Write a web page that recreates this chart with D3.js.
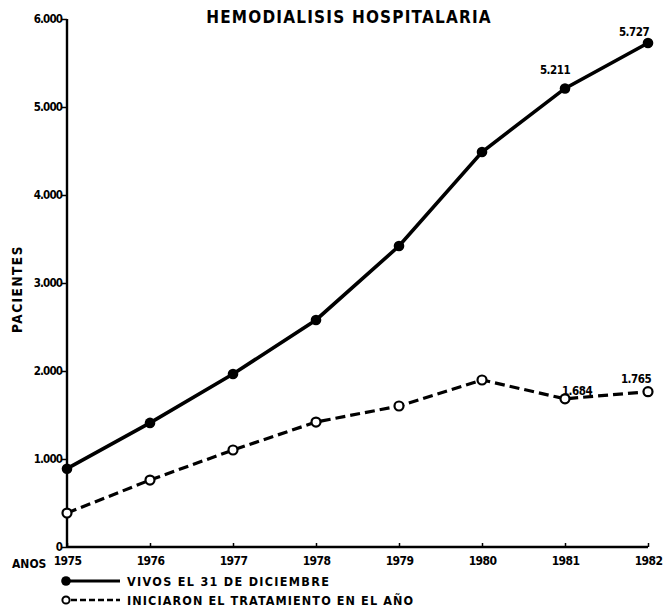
<!DOCTYPE html>
<html>
<head>
<meta charset="utf-8">
<script src="https://cdn.jsdelivr.net/npm/d3@7"></script>
<style>
  body { margin: 0; background: #fff; }
  text { font-family: "DejaVu Sans Condensed", "DejaVu Sans", sans-serif; font-weight: bold; fill: #000; }
</style>
</head>
<body>
<div id="chart"></div>
<script>
"use strict";

// data
var years = [1975, 1976, 1977, 1978, 1979, 1980, 1981, 1982];
var vivos = [890, 1410, 1966, 2580, 3420, 4489, 5211, 5727];
var iniciaron = [386, 761, 1102, 1420, 1602, 1898, 1684, 1765];
var yTicks = [0, 1000, 2000, 3000, 4000, 5000, 6000];
var yTickLabels = ["0", "1.000", "2.000", "3.000", "4.000", "5.000", "6.000"];
var pointLabels = [
  { series: "vivos", year: 1981, text: "5.211", dx: -10, dy: -14 },
  { series: "vivos", year: 1982, text: "5.727", dx: -14, dy: -7 },
  { series: "iniciaron", year: 1981, text: "1.684", dx: 12, dy: -4 },
  { series: "iniciaron", year: 1982, text: "1.765", dx: -12, dy: -9 }
];

var width = 663, height = 614;
var plotLeft = 67, plotRight = 648, plotTop = 19, plotBottom = 547;

var svg = d3.select("#chart").append("svg")
  .attr("width", width)
  .attr("height", height);

var xScale = d3.scaleLinear().domain([1975, 1982]).range([plotLeft, plotRight]);
var yScale = d3.scaleLinear().domain([0, 6000]).range([plotBottom, plotTop]);

// title
svg.append("text")
  .attr("x", 349).attr("y", 23)
  .attr("text-anchor", "middle")
  .style("font-size", "17px")
  .style("letter-spacing", "1.2px")
  .text("HEMODIALISIS HOSPITALARIA");

// y axis
var yAxis = d3.axisLeft(yScale)
  .tickValues(yTicks)
  .tickSize(5)
  .tickFormat(function(d, i) { return yTickLabels[i]; });

var gy = svg.append("g").attr("transform", "translate(" + plotLeft + ",0)").call(yAxis);
gy.select(".domain").attr("stroke-width", 2.4).attr("d", "M0," + plotBottom + "V" + plotTop);
gy.selectAll(".tick line").attr("stroke-width", 1.5);
gy.selectAll(".tick text")
  .attr("x", -5)
  .style("font-size", "11.5px")
  .style("font-family", "'DejaVu Sans Condensed', sans-serif")
  .style("letter-spacing", "-0.9px");

// x axis
var xAxis = d3.axisBottom(xScale)
  .tickValues(years)
  .tickSize(-4)
  .tickFormat(d3.format("d"));

var gx = svg.append("g").attr("transform", "translate(0," + plotBottom + ")").call(xAxis);
gx.select(".domain").attr("stroke-width", 2.4).attr("d", "M" + plotLeft + ",0H" + plotRight);
gx.selectAll(".tick line").attr("stroke-width", 1.5);
gx.selectAll(".tick text")
  .attr("y", 9)
  .style("font-size", "12px")
  .style("font-family", "'DejaVu Sans Condensed', sans-serif")
  .style("letter-spacing", "-0.6px");

svg.append("text")
  .attr("x", 12).attr("y", 568)
  .style("font-size", "12px")
  .text("ANOS");

// y label
svg.append("text")
  .attr("transform", "translate(22,289) rotate(-90)")
  .attr("text-anchor", "middle")
  .style("font-size", "13.5px")
  .style("letter-spacing", "1.5px")
  .text("PACIENTES");

var line = d3.line()
  .x(function(d, i) { return xScale(years[i]); })
  .y(function(d) { return yScale(d); });

svg.append("path")
  .datum(vivos)
  .attr("d", line)
  .attr("fill", "none")
  .attr("stroke", "#000")
  .attr("stroke-width", 3.6);

svg.append("path")
  .datum(iniciaron)
  .attr("d", line)
  .attr("fill", "none")
  .attr("stroke", "#000")
  .attr("stroke-width", 3.2)
  .attr("stroke-dasharray", "10,5");

svg.selectAll(".vivo").data(vivos).enter().append("circle")
  .attr("cx", function(d, i) { return xScale(years[i]); })
  .attr("cy", function(d) { return yScale(d); })
  .attr("r", 5.3)
  .attr("fill", "#000");

svg.selectAll(".inic").data(iniciaron).enter().append("circle")
  .attr("cx", function(d, i) { return xScale(years[i]); })
  .attr("cy", function(d) { return yScale(d); })
  .attr("r", 4.5)
  .attr("fill", "#fff")
  .attr("stroke", "#000")
  .attr("stroke-width", 2.2);

// value labels
svg.selectAll(".plabel").data(pointLabels).enter().append("text")
  .attr("x", function(d) { return xScale(d.year) + d.dx; })
  .attr("y", function(d) {
    var arr = d.series === "vivos" ? vivos : iniciaron;
    return yScale(arr[years.indexOf(d.year)]) + d.dy;
  })
  .attr("text-anchor", "middle")
  .style("font-size", "11.5px")
  .style("letter-spacing", "-0.5px")
  .text(function(d) { return d.text; });

// legend
var legend = svg.append("g");
legend.append("line")
  .attr("x1", 66).attr("x2", 120).attr("y1", 581).attr("y2", 581)
  .attr("stroke", "#000").attr("stroke-width", 3.2);
legend.append("circle").attr("cx", 66).attr("cy", 581).attr("r", 4.8).attr("fill", "#000");
legend.append("text").attr("x", 127).attr("y", 586).style("font-size", "12.5px")
  .style("letter-spacing", "1.3px").text("VIVOS EL 31 DE DICIEMBRE");

legend.append("line")
  .attr("x1", 71).attr("x2", 120).attr("y1", 600).attr("y2", 600)
  .attr("stroke", "#000").attr("stroke-width", 2.6).attr("stroke-dasharray", "6,3");
legend.append("circle").attr("cx", 66).attr("cy", 600).attr("r", 3.6)
  .attr("fill", "#fff").attr("stroke", "#000").attr("stroke-width", 2);
legend.append("text").attr("x", 127).attr("y", 605).style("font-size", "12.5px")
  .style("letter-spacing", "1.1px").text("INICIARON EL TRATAMIENTO EN EL AÑO");
</script>
</body>
</html>
